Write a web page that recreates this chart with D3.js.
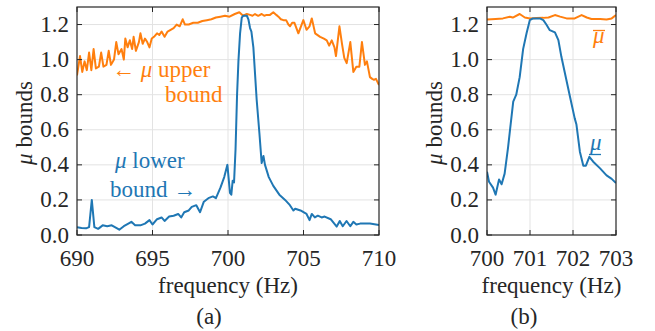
<!DOCTYPE html>
<html><head><meta charset="utf-8">
<script src="https://cdn.jsdelivr.net/npm/d3@7"></script>
<style>body{margin:0;background:#fff}</style>
</head><body><svg id="c" width="655" height="331"></svg>
<script>
// ---------- data ----------
const upperFreqA = [690.0,690.2,690.35,690.5,690.65,690.8,690.95,691.1,691.25,691.45,691.6,691.75,691.95,692.1,692.25,692.45,692.6,692.75,692.95,693.1,693.2,693.35,693.5,693.65,693.75,693.9,694.1,694.2,694.35,694.5,694.65,694.8,694.95,695.1,695.3,695.45,695.6,695.8,696.0,696.2,696.4,696.6,696.8,697.0,697.15,697.4,697.7,698.0,698.3,698.6,698.9,699.2,699.5,699.8,700.1,700.45,700.75,701.0,701.25,701.46,701.62,701.79,702.0,702.23,702.4,702.56,702.78,703.0,703.2,703.34,703.5,703.67,703.85,704.0,704.11,704.25,704.4,704.66,704.99,705.2,705.4,705.55,705.77,706.1,706.35,706.54,706.7,706.87,707.05,707.15,707.38,707.55,707.7,707.86,708.1,708.3,708.5,708.7,708.87,709.07,709.2,709.4,709.55,709.67,709.8,710.0];
const upperA = [0.91,1.02,0.93,0.99,0.94,1.04,0.94,1.06,0.95,0.96,1.04,0.96,0.97,1.05,0.97,1.00,1.10,1.03,1.06,1.00,1.12,1.07,1.11,1.06,1.13,1.05,1.10,1.15,1.09,1.12,1.10,1.07,1.12,1.13,1.15,1.14,1.16,1.13,1.16,1.17,1.18,1.20,1.19,1.23,1.20,1.20,1.21,1.21,1.22,1.225,1.23,1.24,1.245,1.25,1.245,1.26,1.27,1.25,1.26,1.255,1.25,1.26,1.25,1.26,1.25,1.255,1.255,1.27,1.255,1.245,1.23,1.225,1.225,1.20,1.19,1.21,1.21,1.15,1.225,1.17,1.19,1.235,1.15,1.13,1.12,1.11,1.08,1.11,1.07,1.02,1.19,1.09,1.01,0.98,1.10,0.93,0.96,0.96,1.10,0.97,0.99,0.90,0.89,0.885,0.89,0.855];

const lowerFreqA = [690.0,690.3,690.6,690.8,690.98,691.15,691.4,691.7,692.0,692.3,692.6,692.8,693.1,693.4,693.6,693.85,694.2,694.5,694.8,695.0,695.3,695.6,695.8,696.1,696.4,696.7,696.9,697.1,697.4,697.6,697.9,698.15,698.4,698.7,699.0,699.2,699.5,699.75,699.96,700.13,700.22,700.31,700.4,700.5,700.6,700.69,700.8,700.91,701.0,701.25,701.35,701.46,701.55,701.68,701.9,702.08,702.23,702.35,702.45,702.7,703.0,703.4,703.78,704.1,704.33,704.45,704.8,705.2,705.4,705.55,705.75,705.95,706.2,706.4,706.8,707.2,707.4,707.6,707.85,708.1,708.3,708.5,708.75,709.4,710.0];
const lowerA = [0.045,0.040,0.038,0.045,0.20,0.045,0.035,0.055,0.05,0.055,0.04,0.03,0.05,0.065,0.075,0.055,0.055,0.065,0.085,0.06,0.09,0.10,0.08,0.105,0.11,0.12,0.10,0.13,0.14,0.16,0.17,0.13,0.19,0.21,0.22,0.21,0.27,0.33,0.40,0.24,0.23,0.31,0.30,0.49,0.80,0.99,1.15,1.24,1.25,1.25,1.23,1.18,1.16,1.07,0.77,0.58,0.41,0.45,0.40,0.33,0.28,0.23,0.20,0.17,0.14,0.15,0.14,0.12,0.085,0.12,0.10,0.11,0.10,0.105,0.09,0.048,0.08,0.05,0.08,0.05,0.075,0.06,0.065,0.065,0.057];

const upperFreqB = [700.0,700.2,700.37,700.53,700.6,700.76,700.88,701.0,701.15,701.31,701.43,701.58,701.7,701.85,702.04,702.2,702.32,702.43,702.63,702.78,702.9,703.0];
const upperB = [1.229,1.232,1.235,1.244,1.24,1.26,1.24,1.235,1.237,1.238,1.24,1.254,1.245,1.235,1.235,1.254,1.24,1.232,1.232,1.229,1.235,1.254];

const lowerFreqB = [700.0,700.047,700.14,700.2,700.28,700.34,700.41,700.49,700.54,700.61,700.68,700.76,700.84,700.92,700.995,701.07,701.23,701.31,701.38,701.46,701.58,701.66,701.73,701.83,701.93,702.04,702.08,702.16,702.24,702.3,702.38,702.47,702.63,702.78,702.9,703.0];
const lowerB = [0.361,0.304,0.27,0.23,0.317,0.289,0.35,0.50,0.61,0.76,0.80,0.90,1.06,1.15,1.225,1.235,1.235,1.225,1.20,1.168,1.155,1.111,1.016,0.902,0.788,0.665,0.63,0.475,0.395,0.395,0.446,0.418,0.38,0.34,0.32,0.296];

const xTicksA = [690,695,700,705,710];
const xTicksB = [700,701,702,703];
const yTicks = [0,0.2,0.4,0.6,0.8,1.0,1.2];
const xLabel = "frequency (Hz)";
const yLabelRest = " bounds";
const panelNames = ["(a)","(b)"];

// ---------- drawing ----------
const svg = d3.select("#c");
const BLUE = "#1f77b4", ORANGE = "#ff7f0e", INK = "#262626", GRID = "#e3e3e3";
const FS = 23;
const yTop = 7, yBot = 235;

function txt(sel) { return sel.attr("font-size", FS).style("font-family", '"Liberation Serif"'); }

function panel(x0, x1, domain, ticks, series, name) {
  const x = d3.scaleLinear().domain(domain).range([x0, x1]);
  const y = d3.scaleLinear().domain([0, 1.3]).range([yBot, yTop]);
  const g = svg.append("g");
  g.selectAll(".gx").data(ticks.slice(1, -1)).enter().append("line")
    .attr("x1", d => x(d)).attr("x2", d => x(d)).attr("y1", yTop).attr("y2", yBot)
    .attr("stroke", GRID).attr("stroke-width", 1);
  g.selectAll(".gy").data(yTicks.slice(1)).enter().append("line")
    .attr("x1", x0).attr("x2", x1).attr("y1", d => y(d)).attr("y2", d => y(d))
    .attr("stroke", GRID).attr("stroke-width", 1);
  const clipId = "clip" + name;
  svg.append("clipPath").attr("id", clipId).append("rect")
    .attr("x", x0).attr("y", yTop).attr("width", x1 - x0).attr("height", yBot - yTop);
  series.forEach(s => {
    const pts = s.f.map((f, i) => [f, s.v[i]]);
    g.append("path").datum(pts)
      .attr("clip-path", `url(#${clipId})`)
      .attr("d", d3.line().x(d => x(d[0])).y(d => y(d[1])))
      .attr("fill", "none").attr("stroke", s.color).attr("stroke-width", 2)
      .attr("stroke-linejoin", "round");
  });
  const tl = 5;
  ticks.forEach(t => {
    g.append("line").attr("x1", x(t)).attr("x2", x(t)).attr("y1", yBot).attr("y2", yBot - tl).attr("stroke", INK);
    g.append("line").attr("x1", x(t)).attr("x2", x(t)).attr("y1", yTop).attr("y2", yTop + tl).attr("stroke", INK);
  });
  yTicks.forEach(t => {
    g.append("line").attr("x1", x0).attr("x2", x0 + tl).attr("y1", y(t)).attr("y2", y(t)).attr("stroke", INK);
    g.append("line").attr("x1", x1).attr("x2", x1 - tl).attr("y1", y(t)).attr("y2", y(t)).attr("stroke", INK);
  });
  g.append("rect").attr("x", x0).attr("y", yTop).attr("width", x1 - x0).attr("height", yBot - yTop)
    .attr("fill", "none").attr("stroke", INK).attr("stroke-width", 1.2);
  txt(g.selectAll(".xl").data(ticks).enter().append("text"))
    .attr("x", d => x(d)).attr("y", yBot + 31).attr("text-anchor", "middle")
    .attr("fill", INK).text(d => d3.format("d")(d));
  txt(g.selectAll(".yl").data(yTicks).enter().append("text"))
    .attr("x", x0 - 8).attr("y", d => y(d) + 7.5).attr("text-anchor", "end")
    .attr("fill", INK).text(d => d3.format(".1f")(d));
  txt(g.append("text")).attr("x", (x0 + x1) / 2).attr("y", 293).attr("text-anchor", "middle")
    .attr("fill", INK).text(xLabel);
  const yl = txt(g.append("text")).attr("transform", `translate(${x0 - 45},123) rotate(-90)`)
    .attr("text-anchor", "middle").attr("fill", INK);
  yl.append("tspan").style("font-style", "italic").text("μ");
  yl.append("tspan").text(yLabelRest);
  return {x, y, g};
}

panel(77, 379, [690, 710], xTicksA,
  [{f: upperFreqA, v: upperA, color: ORANGE}, {f: lowerFreqA, v: lowerA, color: BLUE}], "a");
panel(487, 616, [700, 703], xTicksB,
  [{f: upperFreqB, v: upperB, color: ORANGE}, {f: lowerFreqB, v: lowerB, color: BLUE}], "b");

txt(svg.append("text")).attr("x", 209).attr("y", 324).attr("text-anchor", "middle")
  .attr("fill", INK).text(panelNames[0]);
txt(svg.append("text")).attr("x", 524).attr("y", 324).attr("text-anchor", "middle")
  .attr("fill", INK).text(panelNames[1]);

function note(xp, yp, color, parts) {
  const t = txt(svg.append("text")).attr("x", xp).attr("y", yp).attr("fill", color);
  parts.forEach(p => { const s = t.append("tspan").text(p[0]); if (p[1]) s.style("font-style", "italic"); });
}
note(112, 77, ORANGE, [["← ", false], ["μ", true], [" upper", false]]);
note(165, 102, ORANGE, [["bound", false]]);
note(115, 168, BLUE, [["μ", true], [" lower", false]]);
note(110, 197, BLUE, [["bound →", false]]);

note(593, 43, ORANGE, [["μ", true]]);
svg.append("line").attr("x1", 593).attr("x2", 605).attr("y1", 30.5).attr("y2", 30.5)
  .attr("stroke", ORANGE).attr("stroke-width", 1.3);
note(590, 150, BLUE, [["μ", true]]);
svg.append("line").attr("x1", 589).attr("x2", 601).attr("y1", 154.5).attr("y2", 154.5)
  .attr("stroke", BLUE).attr("stroke-width", 1.3);
</script>
</body></html>
